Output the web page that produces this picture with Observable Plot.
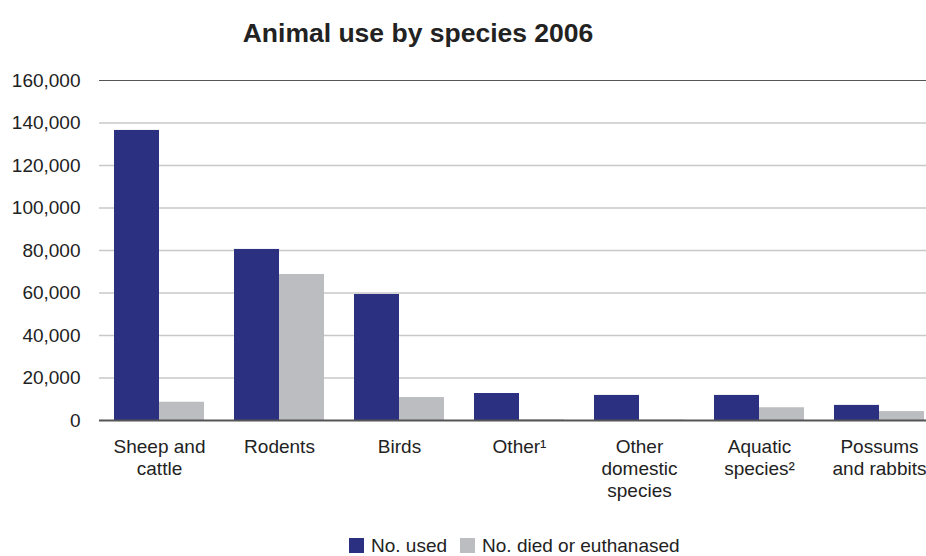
<!DOCTYPE html>
<html>
<head>
<meta charset="utf-8">
<script src="https://cdn.jsdelivr.net/npm/d3@7"></script>
<script src="https://cdn.jsdelivr.net/npm/@observablehq/plot@0.6"></script>
<style>
  body { margin: 0; background: #fff; font-family: "Liberation Sans", Arial, sans-serif; }
  #wrap { width: 926px; height: 556px; position: relative; overflow: hidden; }
  #title { position: absolute; left: 0; width: 836px; top: 18px; text-align: center; font-weight: bold; font-size: 26.5px; line-height: 30px; color: #222; }
  #chart { position: absolute; left: 0; top: 60px; }
  #legend { position: absolute; left: 349px; top: 534px; font-size: 19px; line-height: 24px; color: #222; white-space: nowrap; }
  #legend span.sw { display: inline-block; width: 15px; height: 15px; vertical-align: -1px; margin-right: 7px; }
  #legend span.item { margin-right: 13px; }
</style>
</head>
<body>
<div id="wrap">
  <div id="title">Animal use by species 2006</div>
  <div id="chart"></div>
  <div id="legend"></div>
</div>
<script>
const categories = ["Sheep and cattle", "Rodents", "Birds", "Other", "Other domestic species", "Aquatic species", "Possums and rabbits"];
const categoryLabels = ["Sheep and\ncattle", "Rodents", "Birds", "Other\u00b9", "Other\ndomestic\nspecies", "Aquatic\nspecies\u00b2", "Possums\nand rabbits"];
const series = ["No. used", "No. died or euthanased"];
const used = [136500, 80500, 59300, 12700, 11800, 11800, 7100];
const died = [8600, 68700, 10800, 300, 200, 6000, 4200];
const colors = ["#2b3080", "#bcbdc0"];
const yTicks = [0, 20000, 40000, 60000, 80000, 100000, 120000, 140000, 160000];

const data = [];
categories.forEach((c, i) => {
  data.push({category: c, series: series[0], value: used[i]});
  data.push({category: c, series: series[1], value: died[i]});
});
const labelOf = new Map(categories.map((c, i) => [c, categoryLabels[i]]));

const plot = Plot.plot({
  width: 926,
  height: 450,
  marginTop: 20,
  marginLeft: 98,
  marginRight: 0,
  marginBottom: 90,
  style: {fontFamily: "'Liberation Sans', Arial, sans-serif", fontSize: "19px", color: "#222", background: "#fff"},
  fx: {domain: categories, range: [99, 939], padding: 0, label: null},
  x: {domain: series, paddingInner: 0, paddingOuter: 1/3, axis: null},
  y: {domain: [0, 160000], label: null},
  color: {domain: series, range: colors},
  marks: [
    Plot.ruleY(yTicks.slice(1, -1), {stroke: "#c8c8c8", strokeWidth: 1.5, strokeOpacity: 1}),
    Plot.ruleY([160000], {stroke: "#555", strokeWidth: 1.2}),
    Plot.barY(data, {fx: "category", x: "series", y: "value", fill: "series"}),
    Plot.ruleY([0], {stroke: "#555", strokeWidth: 2}),
    Plot.axisY({ticks: yTicks, tickSize: 0, tickPadding: 19, tickFormat: d => d3.format(",")(d), fontSize: 19, label: null}),
    Plot.axisFx({anchor: "bottom", tickSize: 0, tickPadding: 17, tickFormat: d => labelOf.get(d), lineHeight: 1.16, fontSize: 19, label: null})
  ]
});
document.getElementById("chart").appendChild(plot);

const legend = document.getElementById("legend");
series.forEach((s, i) => {
  const item = document.createElement("span");
  item.className = "item";
  const sw = document.createElement("span");
  sw.className = "sw";
  sw.style.background = colors[i];
  item.appendChild(sw);
  item.appendChild(document.createTextNode(s));
  legend.appendChild(item);
});
</script>
</body>
</html>
